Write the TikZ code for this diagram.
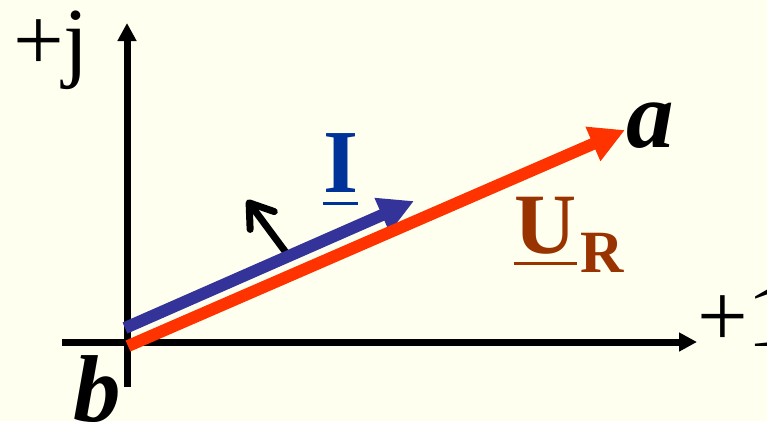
\documentclass[tikz,border=0pt]{standalone}
\usepackage{fontspec}
\setmainfont{Liberation Serif}
\usetikzlibrary{arrows.meta}
\definecolor{bgyellow}{HTML}{FFFFF0}
\definecolor{uredline}{HTML}{FF3300}
\definecolor{iblueline}{HTML}{333399}
\definecolor{itext}{HTML}{003399}
\definecolor{utext}{HTML}{993300}
\begin{document}
\begin{tikzpicture}[x=1pt, y=-1pt,
		axis/.style={line width=7pt, -{Triangle[length=18pt, width=18pt]}},
		phasor/.style={line width=12pt, -{Triangle[length=35pt, width=35pt]}},
		every node/.style={inner sep=0pt, anchor=base west},
		big/.style={font=\fontsize{90}{100}\selectfont},
		ubar/.style={line width=3pt}]
	% 背景
	\fill[bgyellow] (0,0) rectangle (767,421);
	\useasboundingbox (0,0) rectangle (767,421);
	
	% 坐标轴
	\coordinate (xl) at (62,342);
	\coordinate (xr) at (697,342);
	\coordinate (yb) at (127,387);
	\coordinate (yt) at (127,23);
	\draw[axis] (xl) -- (xr);
	\draw[axis] (yb) -- (yt);
	\node[big] (xlab) at (697,346) {+1};
	\node[big] (ylab) at (13,70) {+j};
	
	% 旋转方向
	\coordinate (kstart) at (290,258);
	\coordinate (kend) at (247,200);
	\draw[line width=7pt, -{Straight Barb[length=22pt, width=30pt, round]}] (kstart) -- (kend);
	
	% 相量 I 与 U_R
	\coordinate (istart) at (125,328);
	\coordinate (iend) at (414,201);
	\coordinate (ustart) at (128,346);
	\coordinate (uend) at (625,130);
	\draw[phasor, iblueline] (istart) -- (iend);
	\draw[phasor, uredline] (ustart) -- (uend);
	
	% 标注
	\node[font=\fontsize{90}{100}\selectfont\bfseries, text=itext] (I) at (323,192) {I};
	\draw[ubar, itext] ([yshift=-11pt]I.base west) -- ([yshift=-11pt]I.base east);
	\node[font=\fontsize{86}{100}\selectfont\bfseries, text=utext] (U) at (514,253) {U};
	\draw[ubar, utext] ([yshift=-10pt]U.base west) -- ([yshift=-10pt]U.base east);
	\node[font=\fontsize{60}{70}\selectfont\bfseries, text=utext] (R) at ([xshift=4pt, yshift=-19pt]U.base east) {R};
	\node[font=\fontsize{95}{100}\selectfont\bfseries\itshape] (a) at (626,147) {a};
	\node[font=\fontsize{95}{100}\selectfont\bfseries\itshape] (b) at (73,421) {b};
\end{tikzpicture}
\end{document}
